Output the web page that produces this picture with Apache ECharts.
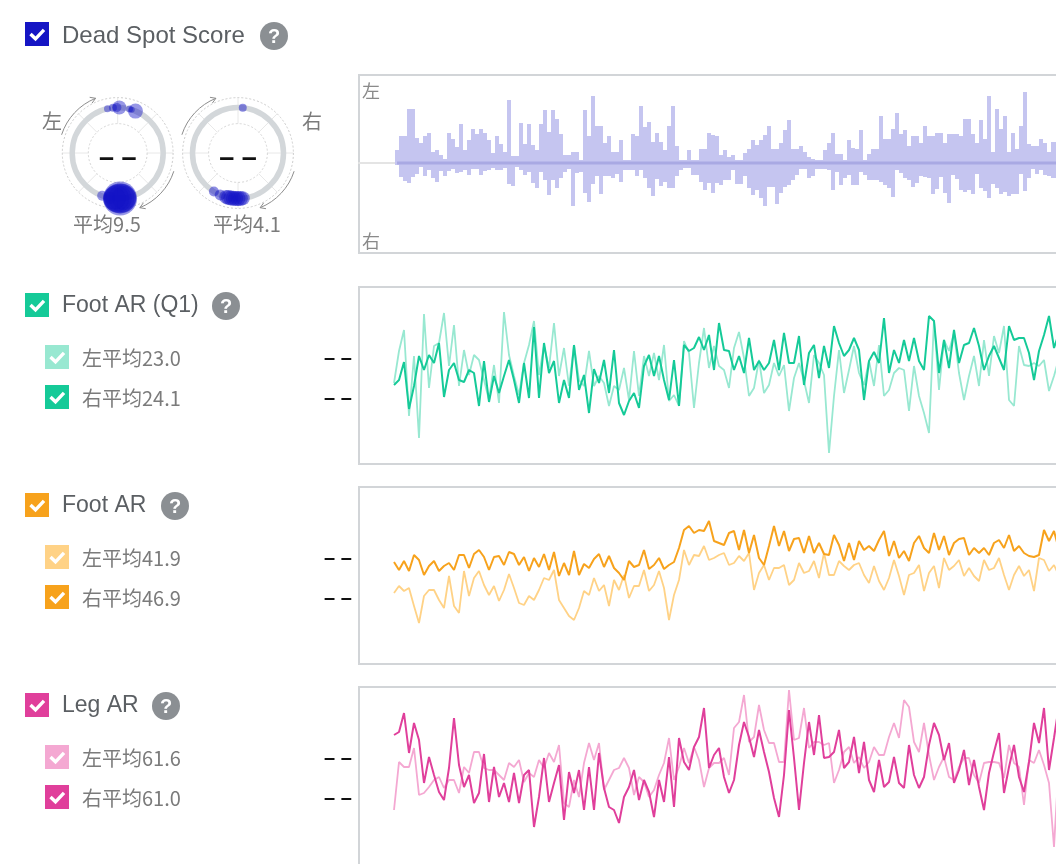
<!DOCTYPE html>
<html>
<head>
<meta charset="utf-8">
<script src="https://cdn.jsdelivr.net/npm/echarts@6/dist/echarts.min.js"></script>
<style>
  html, body { margin: 0; padding: 0; background: #fff; overflow: hidden; }
  #main { width: 1100px; height: 880px; }
</style>
</head>
<body>
<div id="main"></div>
<script>
// ---- dead spot: position around the pedal stroke (deg, clockwise from top) and weight
const leftSpotAngle  = [347, 354, 359, 2, 15, 18, 23, 200, 190, 172, 174, 176, 177, 178, 180, 182, 184];
const leftSpotWeight = [7, 8, 9, 14, 7, 6, 15, 10, 12, 24, 28, 30, 34, 30, 28, 26, 22];
const rightSpotAngle  = [6, 212, 203, 195, 192, 189, 186, 183, 180, 177, 174];
const rightSpotWeight = [8, 10, 11, 14, 15, 15, 15, 15, 15, 15, 14];

// ---- dead spot score per stroke (left up, right down)
const deadLeft = [13,27,27,54,54,25,20,27,30,11,13,8,4,30,24,16,39,13,23,34,29,34,30,23,10,27,19,11,63,7,
  7,40,19,39,18,13,39,53,31,53,44,29,8,8,11,11,3,53,27,67,37,37,20,27,11,11,23,3,3,29,
  27,57,36,41,21,30,21,13,37,57,17,3,3,13,3,3,14,14,
  30,28,27,8,13,6,8,3,3,10,14,23,18,23,28,37,14,14,20,33,43,14,14,17,11,6,4,3,3,13,
  20,30,9,9,3,23,15,14,33,3,9,14,14,47,24,24,34,50,29,33,17,27,27,20,37,27,27,30,30,20,
  29,29,29,27,44,44,29,20,43,24,67,11,54,34,47,11,30,14,37,71,19,17,17,24,20,11,21,21];
const deadRight = [2,14,18,20,14,11,4,13,7,15,19,8,13,8,6,10,9,7,12,6,6,12,8,7,5,7,7,5,21,23,
  4,7,12,9,20,25,9,17,32,17,25,15,9,6,43,10,9,30,39,21,13,31,13,13,15,11,19,7,7,7,
  13,7,15,25,33,16,23,19,25,25,13,7,5,5,12,12,19,27,
  20,30,20,22,17,17,7,21,21,13,25,32,27,35,43,24,24,41,30,24,22,17,12,6,6,15,13,6,6,6,
  7,27,9,22,15,12,22,22,9,12,17,17,17,19,22,25,34,7,10,15,17,24,20,13,14,15,31,26,14,30,
  40,12,16,27,29,27,31,11,25,28,35,21,25,31,29,33,31,31,11,28,15,6,11,7,12,13,15,15];

// ---- Foot AR (Q1)
const footQ1Left = [81,113,134,48,108,26,150,76,118,121,151,98,139,78,114,89,109,104,84,64,
  99,61,152,109,88,69,101,119,143,89,118,96,141,88,116,78,119,84,78,113,
  78,88,81,58,78,74,96,64,113,68,108,88,111,84,119,63,69,58,123,111,56,101,136,
  96,118,98,94,76,116,132,106,68,76,104,71,79,101,88,99,53,86,101,83,
  61,109,101,89,11,68,114,71,94,118,91,79,103,78,119,68,74,91,96,94,
  53,98,68,51,31,144,74,124,113,131,91,64,88,108,78,124,88,128,111,138,
  64,58,118,99,98,101,98,104,73,88,106];
const footQ1Right = [79,84,102,55,78,108,94,109,101,121,67,94,101,84,82,94,91,58,103,62,
  88,71,88,104,84,61,101,66,137,66,121,91,103,61,84,66,119,74,89,51,
  95,81,104,71,114,61,49,63,71,56,98,109,88,108,84,64,104,58,119,113,116,127,114,
  129,94,141,114,113,94,108,91,126,94,103,94,101,124,94,131,101,101,128,79,
  111,119,86,118,96,138,121,108,114,126,114,64,103,112,101,146,91,114,101,124,
  103,126,103,94,148,143,91,124,96,134,101,119,121,136,118,94,108,118,106,94,
  138,124,126,126,111,84,113,129,148,116,131];

// ---- Foot AR
const footLeft = [71,78,73,76,58,41,68,74,74,64,56,88,58,51,93,68,86,93,79,69,
  78,63,74,90,76,61,59,68,64,74,86,84,94,64,56,48,44,56,73,69,
  86,73,79,58,84,74,89,66,78,78,94,73,79,93,76,44,69,84,114,99,
  109,108,118,104,106,109,111,99,101,108,103,111,74,91,99,84,96,96,99,79,
  84,101,91,93,103,86,111,89,89,103,98,94,99,101,89,81,98,83,74,86,
  104,88,69,89,91,99,73,91,98,76,106,94,98,104,88,96,88,83,104,94,
  96,106,89,74,89,98,88,94,73,106,104,93,99,88];
const footRight = [102,94,103,93,109,104,89,98,103,93,98,101,94,109,109,96,110,114,107,94,
  107,108,99,112,110,99,107,93,106,97,110,94,112,88,101,89,113,89,100,96,
  105,110,97,108,96,91,84,103,97,99,114,95,99,106,95,99,102,116,134,138,
  131,134,133,143,123,121,119,131,133,114,134,111,129,106,99,118,138,118,133,113,
  125,126,111,128,111,121,110,109,129,119,103,121,104,123,114,118,113,124,133,108,
  123,106,113,103,121,128,116,111,131,114,128,109,121,125,126,109,116,111,116,109,
  121,124,116,129,113,118,111,108,107,109,134,123,133,114];

// ---- Leg AR
const legLeft = [55,103,98,98,117,70,72,78,85,88,77,85,85,72,98,92,113,113,97,95,
  95,90,85,102,98,105,83,92,88,105,97,112,103,120,62,58,85,68,102,122,
  105,122,75,85,95,97,107,97,70,88,83,68,75,90,102,127,85,98,117,102,
  118,105,78,97,102,102,107,90,137,143,170,123,128,160,135,122,122,103,103,175,
  125,127,157,117,123,123,120,122,82,95,113,118,102,108,97,103,118,110,110,128,
  142,127,165,158,123,113,142,110,85,98,108,88,85,98,107,107,90,82,102,103,
  103,102,87,120,102,98,60,105,102,115,100,82,18,105];
const legRight = [130,133,152,112,142,125,82,108,90,73,65,97,147,100,78,90,62,72,111,63,
  98,68,82,63,92,62,90,95,38,68,107,63,82,100,45,93,72,95,55,98,
  55,112,77,58,55,42,68,78,95,65,85,73,48,85,63,108,58,127,103,95,
  118,128,157,97,110,117,88,72,85,120,143,128,108,135,113,93,67,48,90,155,
  107,55,102,143,110,150,107,108,113,135,97,103,128,92,123,85,73,105,78,83,
  108,82,77,120,90,77,88,120,142,130,105,122,82,95,115,80,105,78,55,92,
  113,132,72,98,120,88,73,103,142,122,157,95,127,160];

const FONT = '"Liberation Sans", "Noto Sans CJK SC", sans-serif';
const CJK = '"Noto Sans CJK SC", "Liberation Sans", sans-serif';
const PAD = 9; // empty slots before the first stroke

const chart = echarts.init(document.getElementById('main'), null, { renderer: 'canvas' });

function text(x, y, str, size, color, align, weight, family) {
  return {
    type: 'text', x: x, y: y, z: 10,
    style: {
      text: str, fontSize: size, fontFamily: family || FONT, fontWeight: weight || 'normal',
      fill: color, align: align || 'left', verticalAlign: 'middle'
    }
  };
}

function checkbox(x, y, color) {
  return {
    type: 'group', x: x, y: y, z: 10,
    children: [
      { type: 'rect', shape: { x: 0, y: 0, width: 24, height: 24 }, style: { fill: color } },
      { type: 'polyline', shape: { points: [[5.5, 12], [10.5, 16.8], [19, 7.8]] },
        style: { stroke: '#fff', lineWidth: 3.4, fill: null } }
    ]
  };
}

function help(cx, cy) {
  return {
    type: 'group', x: cx, y: cy, z: 10,
    children: [
      { type: 'circle', shape: { cx: 0, cy: 0, r: 14 }, style: { fill: '#8b8f93' } },
      { type: 'text', x: 0, y: 1, style: { text: '?', fontSize: 20, fontWeight: 'bold',
        fontFamily: FONT, fill: '#fff', align: 'center', verticalAlign: 'middle' } }
    ]
  };
}

function arrowArc(cx, cy, fromDeg, toDeg) {
  const r = 59;
  const a0 = (fromDeg - 90) * Math.PI / 180;
  const a1 = (toDeg - 90) * Math.PI / 180;
  const tx = cx + r * Math.cos(a1), ty = cy + r * Math.sin(a1);
  const dx = -Math.sin(a1), dy = Math.cos(a1);
  const barb = function (s) {
    const c = Math.cos(s), sn = Math.sin(s);
    return [tx - 6 * (dx * c - dy * sn), ty - 6 * (dx * sn + dy * c)];
  };
  return [
    { type: 'arc', shape: { cx: cx, cy: cy, r: r, startAngle: a0, endAngle: a1, clockwise: true },
      style: { stroke: '#8d8d8d', lineWidth: 1, fill: null } },
    { type: 'polyline', shape: { points: [barb(0.55), [tx, ty], barb(-0.55)] },
      style: { stroke: '#8d8d8d', lineWidth: 1, fill: null } }
  ];
}

function gaugeDeco(cx, cy) {
  const els = [];
  for (let i = 0; i < 8; i++) {
    const a = i * Math.PI / 4;
    els.push({ type: 'line', shape: { x1: cx + 29.4 * Math.cos(a), y1: cy + 29.4 * Math.sin(a),
      x2: cx + 55.4 * Math.cos(a), y2: cy + 55.4 * Math.sin(a) },
      style: { stroke: '#e8e8e8', lineWidth: 1 } });
  }
  els.push({ type: 'circle', shape: { cx: cx, cy: cy, r: 55.4 },
    style: { fill: null, stroke: '#cdcdcd', lineWidth: 1, lineDash: [2, 2] } });
  els.push({ type: 'circle', shape: { cx: cx, cy: cy, r: 29.4 },
    style: { fill: null, stroke: '#d6d6d6', lineWidth: 1, lineDash: [2, 2] } });
  els.push({ type: 'circle', shape: { cx: cx, cy: cy, r: 45.5 },
    style: { fill: null, stroke: '#d3d7da', lineWidth: 5.5 } });
  return els.concat(arrowArc(cx, cy, -72, -22), arrowArc(cx, cy, 108, 158));
}

const panels = [
  { title: 'Foot AR (Q1)', y: 305, help: 226, dark: '#15ca98', light: '#98e8d1', l: '左平均23.0', r: '右平均24.1' },
  { title: 'Foot AR', y: 505, help: 175, dark: '#f7a21c', light: '#ffd286', l: '左平均41.9', r: '右平均46.9' },
  { title: 'Leg AR', y: 705, help: 166, dark: '#e03f9b', light: '#f4a8d2', l: '左平均61.6', r: '右平均61.0' }
];

const G1 = [117.7, 153], G2 = [238, 153];
let graphics = [
  checkbox(25, 22, '#1515c4'),
  text(62, 36, 'Dead Spot Score', 24, '#5b5f63'),
  help(274, 36),
  text(52, 121, '左', 20, '#7b7b7b', 'center', 'normal', CJK),
  text(312, 121, '右', 20, '#7b7b7b', 'center', 'normal', CJK),
  text(107, 224, '平均9.5', 20, '#7b7b7b', 'center', 'normal', CJK),
  text(247, 224, '平均4.1', 20, '#7b7b7b', 'center', 'normal', CJK),
  text(G1[0], G1[1] + 6, '– –', 27, '#111', 'center', 'bold'),
  text(G2[0], G2[1] + 6, '– –', 27, '#111', 'center', 'bold'),
  text(362, 91, '左', 18, '#8a8a8a', 'left', 'normal', CJK),
  text(362, 241, '右', 18, '#8a8a8a', 'left', 'normal', CJK)
];
graphics = graphics.concat(gaugeDeco(G1[0], G1[1]), gaugeDeco(G2[0], G2[1]));
panels.forEach(function (p) {
  graphics.push(checkbox(25, p.y - 12, p.dark));
  graphics.push(text(62, p.y + 1, p.title, 23, '#5b5f63'));
  graphics.push(help(p.help, p.y + 1));
  graphics.push(checkbox(45, p.y + 40, p.light));
  graphics.push(text(82, p.y + 53, p.l, 20, '#7b7b7b', 'left', 'normal', CJK));
  graphics.push(text(338, p.y + 53, '– –', 20, '#111', 'center', 'bold'));
  graphics.push(checkbox(45, p.y + 80, p.dark));
  graphics.push(text(82, p.y + 93, p.r, 20, '#7b7b7b', 'left', 'normal', CJK));
  graphics.push(text(338, p.y + 93, '– –', 20, '#111', 'center', 'bold'));
});

const hidden = { show: false };
const boxGrid = function (top, height) {
  return { left: 359, top: top, width: 700, height: height, show: true,
    borderColor: '#d2d5d8', borderWidth: 2, backgroundColor: 'transparent' };
};
const lineX = function (idx) {
  return { type: 'value', gridIndex: idx, min: -7, max: 133, show: false };
};
const lineY = function (idx) {
  return { type: 'value', gridIndex: idx, min: 0, max: 177, show: false };
};
const pairs = function (arr) { return arr.map(function (v, i) { return [i, v]; }); };
const lineSeries = function (idx, arr, color, width, z) {
  return { type: 'line', xAxisIndex: idx, yAxisIndex: idx, data: pairs(arr), symbol: 'none',
    lineStyle: { color: color, width: width }, z: z, silent: true };
};

const pad = new Array(PAD).fill(null);
const cats = pad.concat(deadLeft).map(function (_, i) { return String(i); });
const spotData = function (angles, weights) {
  return angles.map(function (a, i) { return [45.5, a, weights[i]]; });
};

chart.setOption({
  animation: false,
  backgroundColor: '#fff',
  graphic: graphics,
  polar: [
    { center: G1, radius: 55.4 },
    { center: G2, radius: 55.4 }
  ],
  angleAxis: [0, 1].map(function (i) {
    return { polarIndex: i, type: 'value', min: 0, max: 360, startAngle: 90, clockwise: true,
      axisLine: hidden, axisTick: hidden, axisLabel: hidden, splitLine: hidden };
  }),
  radiusAxis: [0, 1].map(function (i) {
    return { polarIndex: i, type: 'value', min: 0, max: 55.4,
      axisLine: hidden, axisTick: hidden, axisLabel: hidden, splitLine: hidden };
  }),
  grid: [boxGrid(75, 178), boxGrid(287, 177), boxGrid(487, 177), boxGrid(687, 178)],
  xAxis: [
    { type: 'category', gridIndex: 0, data: cats, boundaryGap: true,
      axisLine: { show: true, onZero: true, lineStyle: { color: '#e4e4e4', width: 2 } },
      axisTick: hidden, axisLabel: hidden, splitLine: hidden },
    lineX(1), lineX(2), lineX(3)
  ],
  yAxis: [
    { type: 'value', gridIndex: 0, min: -90, max: 88, show: false },
    lineY(1), lineY(2), { type: 'value', gridIndex: 3, min: 0, max: 178, show: false }
  ],
  series: [
    { type: 'scatter', coordinateSystem: 'polar', polarIndex: 0,
      data: spotData(leftSpotAngle, leftSpotWeight),
      symbolSize: function (v) { return v[2]; },
      itemStyle: { color: 'rgba(18,18,198,0.55)' }, z: 5, silent: true },
    { type: 'scatter', coordinateSystem: 'polar', polarIndex: 1,
      data: spotData(rightSpotAngle, rightSpotWeight),
      symbolSize: function (v) { return v[2]; },
      itemStyle: { color: 'rgba(18,18,198,0.6)' }, z: 5, silent: true },
    { type: 'bar', xAxisIndex: 0, yAxisIndex: 0, data: pad.concat(deadLeft),
      barCategoryGap: '0%', barGap: '-100%', itemStyle: { color: '#c5c5f0' }, silent: true },
    { type: 'bar', xAxisIndex: 0, yAxisIndex: 0,
      data: pad.concat(deadRight.map(function (v) { return -v; })),
      barCategoryGap: '0%', barGap: '-100%', itemStyle: { color: '#c5c5f0' }, silent: true },
    { type: 'line', xAxisIndex: 0, yAxisIndex: 0, symbol: 'none', silent: true, z: 4,
      data: pad.concat(deadLeft.map(function () { return 0; })),
      lineStyle: { color: '#a9a9e3', width: 3 } },
    lineSeries(1, footQ1Left, panels[0].light, 1.8, 3),
    lineSeries(1, footQ1Right, panels[0].dark, 2, 4),
    lineSeries(2, footLeft, panels[1].light, 1.8, 3),
    lineSeries(2, footRight, panels[1].dark, 2, 4),
    lineSeries(3, legLeft, panels[2].light, 1.8, 3),
    lineSeries(3, legRight, panels[2].dark, 2, 4)
  ]
});
</script>
</body>
</html>
